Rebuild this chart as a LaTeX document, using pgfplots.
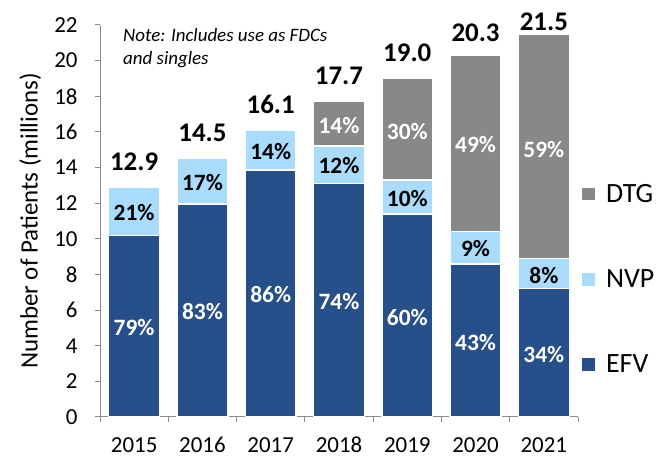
\documentclass[border=0pt]{standalone}
\usepackage{fontspec}
\setmainfont{Carlito}
\usepackage{pgfplots}
\pgfplotsset{compat=1.18}
\definecolor{efv}{HTML}{27508A}
\definecolor{nvp}{HTML}{A9DCFC}
\definecolor{dtg}{HTML}{888888}
\definecolor{axisgray}{HTML}{8C8C8C}
\tikzset{
  pct/.style={font=\fontsize{23.5}{26}\selectfont\bfseries, anchor=center},
  totl/.style={font=\fontsize{27}{30}\selectfont\bfseries, anchor=base},
}
\pgfplotsset{
  sqlegend/.style={legend image code/.code={\fill[##1] (0bp,-7bp) rectangle (14bp,7bp);}},
}
\begin{document}
\begin{tikzpicture}
\useasboundingbox (0,0) rectangle (668bp,459bp);
\begin{axis}[
  at={(100bp,42bp)}, anchor=south west,
  scale only axis, width=478bp, height=392bp,
  ybar stacked, bar width=0.745,
  xmin=-0.5, xmax=6.5, ymin=0, ymax=22,
  axis lines*=left,
  axis line style={draw=axisgray, line width=1bp},
  xtick={-0.5,0.5,...,6.5},
  xticklabels={},
  extra x ticks={0,1,2,3,4,5,6},
  extra x tick labels={2015,2016,2017,2018,2019,2020,2021},
  extra x tick style={major tick length=0pt},
  ytick={0,2,...,22},
  tick align=outside,
  major tick length=5bp,
  tick style={draw=axisgray, line width=1bp},
  /pgf/number format/assume math mode=true,
  tick label style={font=\fontsize{23}{26}\selectfont},
  xticklabel style={inner sep=0pt, yshift=-20bp},
  yticklabel style={xshift=-14bp},
  ylabel={Number of Patients (millions)},
  ylabel style={at={(axis description cs:-0.146,0.5)}, anchor=center,
    font=\fontsize{25}{28}\selectfont},
  sqlegend,
  reverse legend,
  legend cell align=left,
  legend style={draw=none, fill=none, inner sep=0pt,
    font=\fontsize{28}{30}\selectfont,
    row sep=62bp, column sep=8bp,
    at={(rel axis cs:1.005,0.6)}, anchor=north west},
  clip=false,
]
\addplot[fill=efv, draw=white, line width=1.5bp]
  coordinates {(0,10.2) (1,11.95) (2,13.85) (3,13.1) (4,11.4) (5,8.6) (6,7.2)};
\addplot[fill=nvp, draw=white, line width=1.5bp]
  coordinates {(0,2.7) (1,2.55) (2,2.25) (3,2.1) (4,1.9) (5,1.8) (6,1.7)};
\addplot[fill=dtg, draw=white, line width=1.5bp]
  coordinates {(0,0) (1,0) (2,0) (3,2.5) (4,5.7) (5,9.9) (6,12.6)};
\legend{EFV,NVP,DTG}

% label anchors: E = EFV, N = NVP, D = DTG, T = total
\coordinate (E0) at (axis cs:0,5.0);   \coordinate (N0) at (axis cs:0,11.5);
\coordinate (E1) at (axis cs:1,5.9);   \coordinate (N1) at (axis cs:1,13.15);
\coordinate (E2) at (axis cs:2,6.85);  \coordinate (N2) at (axis cs:2,14.9);
\coordinate (E3) at (axis cs:3,6.5);   \coordinate (N3) at (axis cs:3,14.1);
\coordinate (E4) at (axis cs:4,5.6);   \coordinate (N4) at (axis cs:4,12.25);
\coordinate (E5) at (axis cs:5,4.2);   \coordinate (N5) at (axis cs:5,9.45);
\coordinate (E6) at (axis cs:6,3.5);   \coordinate (N6) at (axis cs:6,7.95);
\coordinate (D3) at (axis cs:3,16.35);
\coordinate (D4) at (axis cs:4,16.0);
\coordinate (D5) at (axis cs:5,15.3);
\coordinate (D6) at (axis cs:6,15.0);
\coordinate (T0) at (axis cs:0,12.9);
\coordinate (T1) at (axis cs:1,14.5);
\coordinate (T2) at (axis cs:2,16.1);
\coordinate (T3) at (axis cs:3,17.7);
\coordinate (T4) at (axis cs:4,19.0);
\coordinate (T5) at (axis cs:5,20.3);
\coordinate (T6) at (axis cs:6,21.5);
\end{axis}

% segment shares
\node[pct, white] at (E0) {79\%};
\node[pct, white] at (E1) {83\%};
\node[pct, white] at (E2) {86\%};
\node[pct, white] at (E3) {74\%};
\node[pct, white] at (E4) {60\%};
\node[pct, white] at (E5) {43\%};
\node[pct, white] at (E6) {34\%};
\node[pct] at (N0) {21\%};
\node[pct] at (N1) {17\%};
\node[pct] at (N2) {14\%};
\node[pct] at (N3) {12\%};
\node[pct] at (N4) {10\%};
\node[pct] at (N5) {9\%};
\node[pct] at (N6) {8\%};
\node[pct, white] at (D3) {14\%};
\node[pct, white] at (D4) {30\%};
\node[pct, white] at (D5) {49\%};
\node[pct, white] at (D6) {59\%};

% totals
\node[totl, yshift=17bp] at (T0) {12.9};
\node[totl, yshift=17bp] at (T1) {14.5};
\node[totl, yshift=17bp] at (T2) {16.1};
\node[totl, yshift=17bp] at (T3) {17.7};
\node[totl, yshift=17bp] at (T4) {19.0};
\node[totl, yshift=14bp] at (T5) {20.3};
\node[totl, yshift=3bp]  at (T6) {21.5};

\node[anchor=north west, align=left, inner sep=0pt,
  font=\fontsize{19}{23}\selectfont\itshape] at (123bp,431bp)
  {Note: Includes use as FDCs\\and singles};
\end{tikzpicture}
\end{document}
